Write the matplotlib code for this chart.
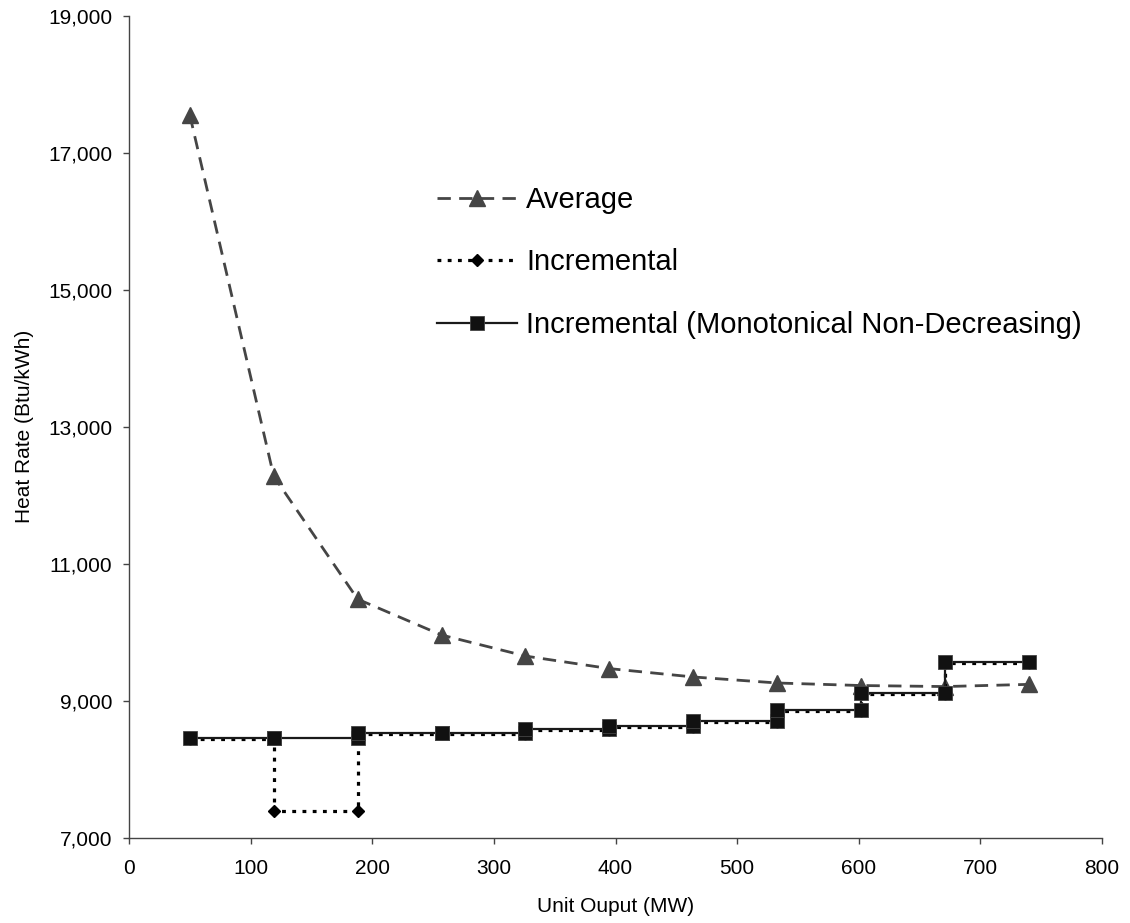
import matplotlib
matplotlib.use("Agg")
import matplotlib.pyplot as plt
import numpy as np
from matplotlib.ticker import StrMethodFormatter

plt.rcParams['font.family'] = ['Liberation Sans', 'DejaVu Sans']

# unit output breakpoints (MW)
output_mw = [50, 119, 188, 257, 326, 395, 464, 533, 602, 671, 740]
# average heat rate at each breakpoint (Btu/kWh)
avg_rate = [17550, 12280, 10485, 9962, 9655, 9472, 9350, 9262, 9225, 9210, 9242]
# incremental heat rate on each segment between breakpoints
incr_rate = [8440, 7398, 8515, 8522, 8572, 8620, 8698, 8852, 9106, 9550]
# monotonic non-decreasing version
mono_rate = [8455, 8455, 8528, 8537, 8586, 8634, 8712, 8868, 9120, 9564]

x_ticks = [0, 100, 200, 300, 400, 500, 600, 700, 800]
y_ticks = [7000, 9000, 11000, 13000, 15000, 17000, 19000]

labels = ["Average", "Incremental", "Incremental (Monotonical Non-Decreasing)"]


def steps(bp, levels):
    # each segment drawn from its start to its end breakpoint
    xs = np.repeat(bp, 2)[1:-1]
    ys = np.repeat(levels, 2)
    return xs, ys


fig = plt.figure(figsize=(11.3, 9.23), dpi=100)
ax = fig.add_axes([129 / 1130, 85 / 923, 973 / 1130, 822.3 / 923])

ax.plot(output_mw, avg_rate, color='#454545', lw=2.0, dashes=(4.8, 3.0),
        marker='^', markersize=11, markeredgecolor='#454545', markerfacecolor='#454545',
        label=labels[0], zorder=2)

xi, yi = steps(output_mw, incr_rate)
ax.plot(xi, yi, color='black', lw=2.3, dashes=(1.2, 2.0),
        marker='D', markersize=6.6, markerfacecolor='black', markeredgecolor='black',
        label=labels[1], zorder=3)

xm, ym = steps(output_mw, mono_rate)
ax.plot(xm, ym, color='#1a1a1a', lw=1.6, linestyle='-',
        marker='s', markersize=9.5, markerfacecolor='#111111', markeredgecolor='#444444',
        markeredgewidth=0.6, label=labels[2], zorder=4)

ax.set_xlim(0, 800)
ax.set_ylim(7000, 19000)
ax.set_xticks(x_ticks)
ax.set_yticks(y_ticks)
ax.yaxis.set_major_formatter(StrMethodFormatter('{x:,.0f}'))

for s in ['top', 'right']:
    ax.spines[s].set_visible(False)
for s in ['left', 'bottom']:
    ax.spines[s].set_color('#444444')
    ax.spines[s].set_linewidth(1.0)

ax.tick_params(axis='both', direction='out', length=4, width=1, color='#444444',
               labelsize=15, labelcolor='black')
ax.tick_params(axis='x', pad=11)
ax.tick_params(axis='y', pad=8)

ax.set_xlabel("Unit Ouput (MW)", fontsize=15, labelpad=14)
ax.set_ylabel("Heat Rate (Btu/kWh)", fontsize=15, labelpad=10)

ax.legend(loc='upper left', bbox_to_anchor=(437 / 1130, 1 - 186 / 923),
          bbox_transform=fig.transFigure, frameon=False, fontsize=21,
          handlelength=2.75, handletextpad=0.3, labelspacing=1.18,
          borderpad=0, borderaxespad=0, numpoints=1)

fig.savefig("out.png", dpi=100)
